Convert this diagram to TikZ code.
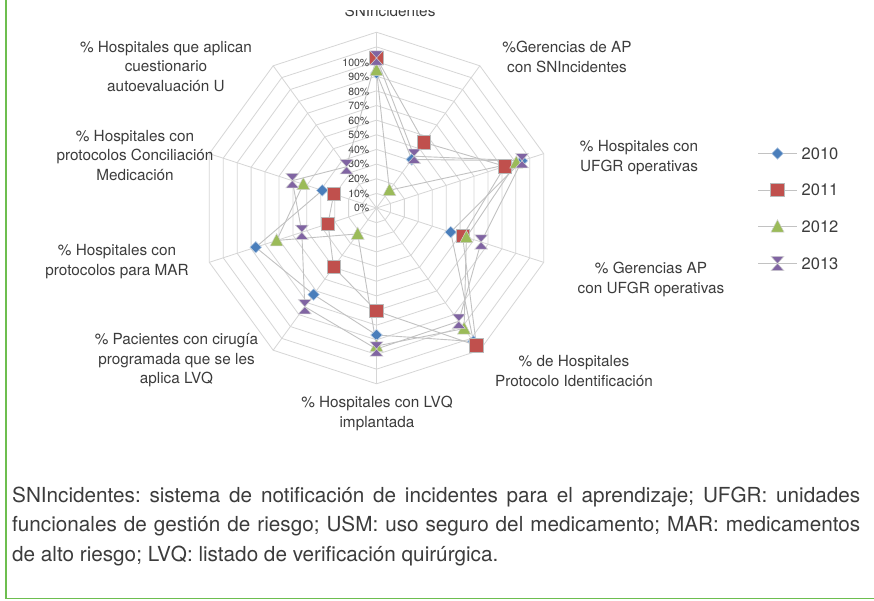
\documentclass[tikz,border=0pt]{standalone}
\usepackage{fontspec}
\setmainfont{TeX Gyre Heros}
\usetikzlibrary{calc}
\frenchspacing
\definecolor{gridc}{HTML}{D6D6D6}
\definecolor{linec}{HTML}{C2C2C2}
\definecolor{txt}{HTML}{3C3C3C}
\definecolor{c10}{HTML}{4A7EBB}
\definecolor{c11}{HTML}{C0504D}
\definecolor{c12}{HTML}{9BBB59}
\definecolor{c13}{HTML}{8064A2}
\definecolor{framec}{HTML}{6DBE4F}
\begin{document}
\begin{tikzpicture}[x=1pt,y=1pt,
  gridline/.style={draw=gridc, line width=0.8pt},
  serie/.style={draw=linec, line width=0.9pt, line join=round},
  axlabel/.style={align=center, text=txt, inner sep=0pt, font=\fontsize{15.3}{19.5}\selectfont},
  scalelabel/.style={anchor=east, text=txt, inner sep=0pt, font=\fontsize{10.5}{10.5}\selectfont},
  legtext/.style={anchor=west, text=txt, inner sep=0pt, font=\fontsize{16.5}{16.5}\selectfont},
  captext/.style={anchor=base west, inner sep=0pt, text=txt, font=\fontsize{20.7}{20.7}\selectfont},
  pics/dia/.style={code={\filldraw[fill=c10, draw=white!65!c10, line width=0.5pt] (0,5.8)--(5.8,0)--(0,-5.8)--(-5.8,0)--cycle;}},
  pics/sq/.style={code={\filldraw[fill=c11, draw=gray!55, line width=0.7pt] (-6.7,-6.7) rectangle (6.7,6.7);}},
  pics/tri/.style={code={\filldraw[fill=c12, draw=gray!35, line width=0.5pt] (-6.5,-5.5)--(6.5,-5.5)--(0,6.8)--cycle;}},
  pics/bow/.style={code={\filldraw[fill=c13, draw=gray!35, line width=0.5pt] (-6.5,7.2)--(6.5,7.2)--(-6.5,-7.2)--(6.5,-7.2)--cycle;}}
]
\useasboundingbox (0,0) rectangle (874,-600);
\fill[white] (0,0) rectangle (874,-600);

% frame
\draw[framec, line width=1.4pt] (6,10) -- (6,-598.5) -- (880,-598.5);

\begin{scope}[shift={(376.5,-208)}]
  \coordinate (c) at (0,0);
  % grid rings
  \foreach \k in {1,...,12}{
    \draw[gridline] (90:{14.65*\k})
      \foreach \j in {1,...,9}{ -- ({90-36*\j}:{14.65*\k}) } -- cycle;
  }
  % spokes
  \foreach \j in {0,...,9}{
    \coordinate (s\j) at ({90-36*\j}:175.8);
    \draw[gridline] (c) -- (s\j);
  }
  % scale labels
  \foreach \k/\t in {0/0\%,1/10\%,2/20\%,3/30\%,4/40\%,5/50\%,6/60\%,7/70\%,8/80\%,9/90\%,10/100\%}{
    \node[scalelabel] (t\k) at (-7,{14.55*\k}) {\t};
  }
  % data points
  \foreach \k/\r in {0/135,1/60,2/153,3/78,4/165,5/127,6/107,7/127,8/57}{
    \coordinate (a\k) at ({90-36*\k}:\r);}
  \foreach \k/\r in {0/150,1/81,2/135,3/90.5,4/170,5/103,6/73,7/51,8/45}{
    \coordinate (b\k) at ({90-36*\k}:\r);}
  \foreach \k/\r in {0/138,1/22,2/147,3/94.5,4/149,5/138,6/32,7/105,8/77}{
    \coordinate (g\k) at ({90-36*\k}:\r);}
  \foreach \k/\r in {0/150,1/64,2/153,3/110,4/140,5/141,6/122,7/78.5,8/88.5,9/51}{
    \coordinate (d\k) at ({90-36*\k}:\r);}
\end{scope}

% series lines
\draw[serie] (a0)--(a1)--(a2)--(a3)--(a4)--(a5)--(a6)--(a7)--(a8);
\draw[serie] (b0)--(b1)--(b2)--(b3)--(b4)--(b5)--(b6)--(b7)--(b8);
\draw[serie] (g0)--(g1)--(g2)--(g3)--(g4)--(g5)--(g6)--(g7)--(g8);
\draw[serie] (d0)--(d1)--(d2)--(d3)--(d4)--(d5)--(d6)--(d7)--(d8)--(d9)--cycle;

% markers
\foreach \k in {0,...,8}{ \pic at (a\k) {dia}; }
\foreach \k in {0,...,8}{ \pic at (b\k) {sq}; }
\foreach \k in {0,...,8}{ \pic at (g\k) {tri}; }
\foreach \k in {0,...,9}{ \pic at (d\k) {bow}; }

% category labels
\begin{scope}
  \clip (0,-10) rectangle (874,-30);
  \node[axlabel, anchor=base] (l0) at (390,-16.5) {SNIncidentes};
\end{scope}
\node[axlabel] (l1) at (567,-57) {\%Gerencias de AP\\con SNIncidentes};
\node[axlabel] (l2) at (639,-157.5) {\% Hospitales con\\UFGR operativas};
\node[axlabel] (l3) at (651,-279.5) {\% Gerencias AP\\con UFGR operativas};
\node[axlabel] (l4) at (574,-371) {\% de Hospitales\\Protocolo Identificación};
\node[axlabel] (l5) at (377,-413.5) {\% Hospitales con LVQ\\implantada};
\node[axlabel] (l6) at (176.5,-360.5) {\% Pacientes con cirugía\\programada que se les\\aplica LVQ};
\node[axlabel] (l7) at (117,-261.5) {\% Hospitales con\\protocolos para MAR};
\node[axlabel] (l8) at (135,-155.5) {\% Hospitales con\\protocolos Conciliación\\Medicación};
\node[axlabel] (l9) at (166,-66.5) {\% Hospitales que aplican\\cuestionario\\autoevaluación U};

% legend
\foreach \y/\p/\t [count=\i] in {153.5/dia/2010,190/sq/2011,226.5/tri/2012,263.5/bow/2013}{
  \coordinate (la\i) at (758,-\y);
  \coordinate (lb\i) at (797,-\y);
  \draw[serie] (la\i) -- (lb\i);
  \pic at (777.5,-\y) {\p};
  \node[legtext] (lt\i) at (801.5,-\y) {\t};
}

% caption
\node[captext] (cap1) at (12,-502)
  {\makebox[848pt][s]{SNIncidentes: sistema de notificación de incidentes para el aprendizaje; UFGR: unidades}};
\node[captext] (cap2) at (12,-531.5)
  {\makebox[848pt][s]{funcionales de gestión de riesgo; USM: uso seguro del medicamento; MAR: medicamentos}};
\node[captext] (cap3) at (12,-561)
  {de alto riesgo; LVQ: listado de verificación quirúrgica.};
\end{tikzpicture}
\end{document}
